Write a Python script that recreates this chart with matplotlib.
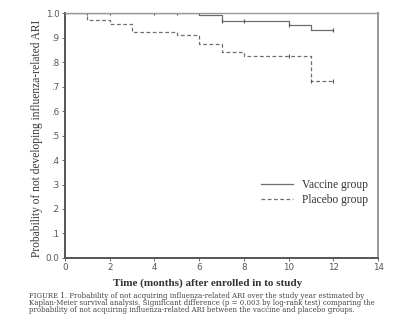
import matplotlib.pyplot as plt
import numpy as np

# Kaplan-Meier step data
vac_t = [0, 6, 7, 10, 11, 12]
vac_s = [1.0, 0.993, 0.970, 0.952, 0.932, 0.932]
plc_t = [0, 1, 2, 3, 5, 6, 7, 8, 11, 12]
plc_s = [1.0, 0.973, 0.955, 0.922, 0.911, 0.874, 0.840, 0.826, 0.723, 0.723]

# censor marks
vac_ct = [1, 2, 4, 5, 6, 7, 8, 10, 12]
vac_cs = [1.0, 1.0, 1.0, 1.0, 1.0, 0.970, 0.970, 0.952, 0.932]
plc_ct = [10, 11, 12]
plc_cs = [0.826, 0.723, 0.723]

xticks = [0, 2, 4, 6, 8, 10, 12, 14]
yticks = [0.0, 0.1, 0.2, 0.3, 0.4, 0.5, 0.6, 0.7, 0.8, 0.9, 1.0]
ylabels = ['0.0', '.1', '.2', '.3', '.4', '.5', '.6', '.7', '.8', '.9', '1.0']

caption = [
    "FIGURE 1. Probability of not acquiring influenza-related ARI over the study year estimated by",
    "Kaplan-Meier survival analysis. Significant difference (p = 0.003 by log-rank test) comparing the",
    "probability of not acquiring influenza-related ARI between the vaccine and placebo groups.",
]

serif = ['Liberation Serif', 'DejaVu Serif']
line_col = '#6e6e6e'

fig = plt.figure(figsize=(3.96, 3.34), dpi=100)
ax = fig.add_axes([0.164, 0.228, 0.791, 0.732])

ax.step(vac_t, vac_s, where='post', color=line_col, lw=0.9, label='Vaccine group')
ax.step(plc_t, plc_s, where='post', color=line_col, lw=0.9, ls=(0, (3, 2)), label='Placebo group')
ax.plot(vac_ct, vac_cs, ls='none', marker='|', ms=3, mew=0.8, color='#555555')
ax.plot(plc_ct, plc_cs, ls='none', marker='|', ms=3, mew=0.8, color='#555555')

ax.set_xlim(0, 14)
ax.set_ylim(0, 1.0)
ax.set_xticks(xticks)
ax.set_yticks(yticks)
ax.set_yticklabels(ylabels)
ax.tick_params(labelsize=6.3, colors='#555555', length=2, width=0.6, pad=2)

for s in ['left', 'bottom']:
    ax.spines[s].set_color('#555555')
    ax.spines[s].set_linewidth(1.4)
for s in ['top', 'right']:
    ax.spines[s].set_color('#999999')
    ax.spines[s].set_linewidth(1.0)
ax.spines['right'].set_linewidth(1.4)

ax.set_xlabel('Time (months) after enrolled in to study', family=serif,
              fontsize=8, fontweight='bold', color='#333333')
ax.xaxis.set_label_coords(0.457, -0.085)
ax.set_ylabel('Probability of not developing influenza-related ARI', family=serif,
              fontsize=8.3, color='#333333')
ax.yaxis.set_label_coords(-0.07, 0.49)

leg = ax.legend(loc='upper left', bbox_to_anchor=(0.61, 0.34), frameon=False,
                prop={'family': serif, 'size': 8.3}, handlelength=2.8,
                handletextpad=0.8, labelspacing=0.25, borderaxespad=0)
for t in leg.get_texts():
    t.set_color('#333333')

for i, line in enumerate(caption):
    fig.text(0.073, 0.113 - i * 0.021, line, family='DejaVu Serif', fontsize=5.0,
             color='#444444', va='center', ha='left')

fig.savefig('out.png', dpi=100, facecolor='white')
